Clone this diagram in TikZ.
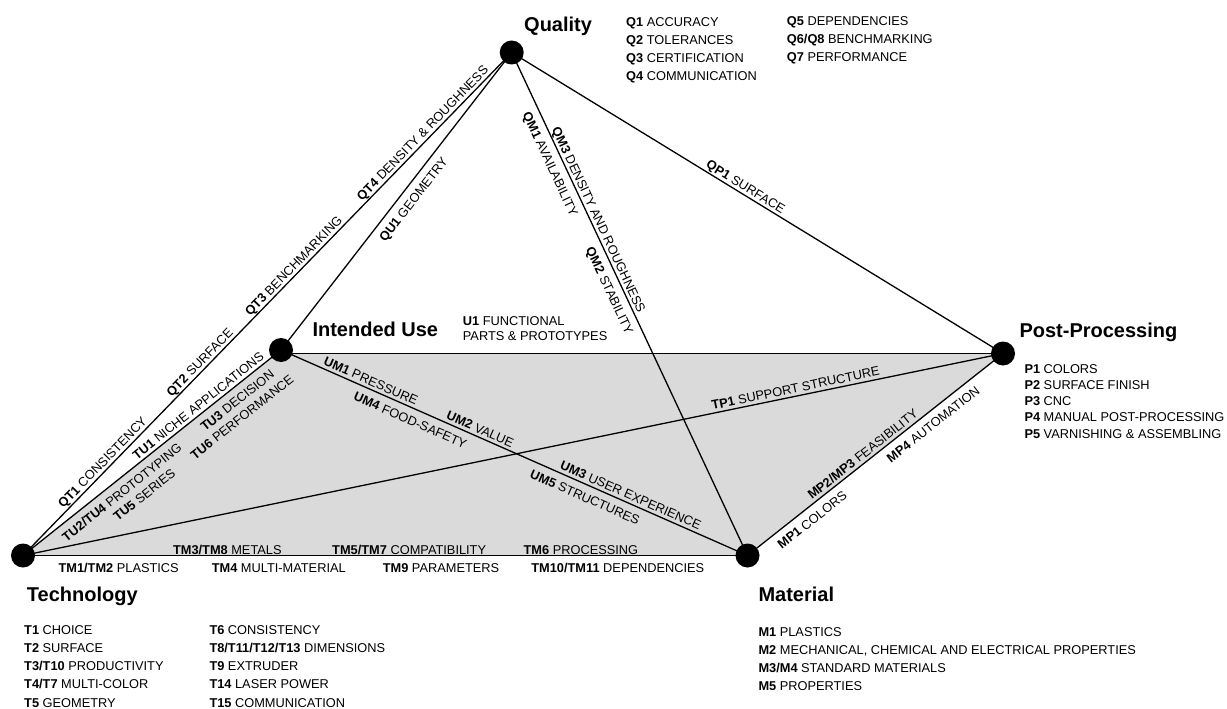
\documentclass[tikz,border=0pt]{standalone}
\usepackage{fontspec}
\setmainfont{Liberation Sans}
\pgfdeclarelayer{filllayer}
\pgfdeclarelayer{edgelayer}
\pgfsetlayers{filllayer,edgelayer,main}
\begin{document}
\begin{tikzpicture}[x=1pt,y=-1pt,
  vertex/.style={circle,fill=black,minimum size=24pt,inner sep=0pt,outer sep=0pt},
  heading/.style={anchor=base west,inner sep=0pt,font=\fontsize{20}{24}\selectfont\bfseries},
  item/.style={anchor=base west,inner sep=0pt,font=\fontsize{12.8}{15}\selectfont},
  edge/.style={line width=1.3pt,black},
  lbl/.style={sloped,font=\fontsize{12.8}{15}\selectfont,text height=9.2pt,text depth=0pt,outer sep=0pt},
  la/.style={lbl,anchor=south,inner sep=3.5pt},
  lah/.style={lbl,anchor=south,inner sep=1.5pt},
  lb/.style={lbl,anchor=north,inner sep=7.5pt},
  lbb/.style={lbl,anchor=north,inner sep=23.5pt},
]
\useasboundingbox (0,0) rectangle (1227,709);

% the five aspects
\node[vertex] (T)  at (23,555.5) {};
\node[vertex] (IU) at (281,350) {};
\node[vertex] (Q)  at (511.7,52.5) {};
\node[vertex] (PP) at (1003,353.5) {};
\node[vertex] (M)  at (747.5,555.5) {};

% shaded area between technology, intended use, post-processing and material
\begin{pgfonlayer}{filllayer}
  \fill[fill={rgb,255:red,218;green,218;blue,218}]
    (T.center) -- (IU.center) -- (IU.center |- PP.center) -- (PP.center) -- (M.center) -- cycle;
\end{pgfonlayer}

% connections with their labels
\begin{pgfonlayer}{edgelayer}
  \draw[edge] (T.center) -- (Q.center)
    node[la,pos=0.174] (qt1) {\textbf{QT1} CONSISTENCY}
    node[la,pos=0.373] (qt2) {\textbf{QT2} SURFACE}
    node[la,pos=0.565] (qt3) {\textbf{QT3} BENCHMARKING}
    node[la,pos=0.829] (qt4) {\textbf{QT4} DENSITY \& ROUGHNESS};
  \draw[edge] (T.center) -- (IU.center)
    node[la,pos=0.698] (tu1) {\textbf{TU1} NICHE APPLICATIONS}
    node[lb,pos=0.354] (tu2) {\textbf{TU2/TU4} PROTOTYPING}
    node[lbb,pos=0.402] (tu5) {\textbf{TU5} SERIES}
    node[lb,pos=0.801] (tu3) {\textbf{TU3} DECISION}
    node[lbb,pos=0.781] (tu6) {\textbf{TU6} PERFORMANCE};
  \draw[edge] (IU.center) -- (Q.center)
    node[lb,pos=0.532] (qu1) {\textbf{QU1} GEOMETRY};
  \draw[edge] (Q.center) -- (M.center)
    node[lb,pos=0.211] (qm1) {\textbf{QM1} AVAILABILITY}
    node[la,pos=0.339] (qm3) {\textbf{QM3} DENSITY AND ROUGHNESS}
    node[lb,pos=0.463] (qm2) {\textbf{QM2} STABILITY};
  \draw[edge] (Q.center) -- (PP.center)
    node[la,pos=0.468] (qp1) {\textbf{QP1} SURFACE};
  \draw[edge] (IU.center) -- (M.center)
    node[la,pos=0.186] (um1) {\textbf{UM1} PRESSURE}
    node[lb,pos=0.288] (um4) {\textbf{UM4} FOOD-SAFETY}
    node[la,pos=0.420] (um2) {\textbf{UM2} VALUE}
    node[la,pos=0.743] (um3) {\textbf{UM3} USER EXPERIENCE}
    node[lb,pos=0.662] (um5) {\textbf{UM5} STRUCTURES};
  \draw[edge] (T.center) -- (PP.center)
    node[la,pos=0.790] (tp1) {\textbf{TP1} SUPPORT STRUCTURE};
  \draw[edge] (M.center) -- (PP.center)
    node[lb,pos=0.223] (mp1) {\textbf{MP1} COLORS}
    node[la,pos=0.470] (mp2) {\textbf{MP2/MP3} FEASIBILITY}
    node[lb,pos=0.697] (mp4) {\textbf{MP4} AUTOMATION};
  \draw[edge] (IU.center |- PP.center) -- (PP.center);
  \draw[edge] (T.center) -- (M.center)
    node[lah,pos=0.282] (tm3) {\textbf{TM3/TM8} METALS}
    node[lah,pos=0.533] (tm5) {\textbf{TM5/TM7} COMPATIBILITY}
    node[lah,pos=0.770] (tm6) {\textbf{TM6} PROCESSING}
    node[lb,pos=0.132] (tm1) {\textbf{TM1/TM2} PLASTICS}
    node[lb,pos=0.353] (tm4) {\textbf{TM4} MULTI-MATERIAL}
    node[lb,pos=0.577] (tm9) {\textbf{TM9} PARAMETERS}
    node[lb,pos=0.821] (tm10) {\textbf{TM10/TM11} DEPENDENCIES};
\end{pgfonlayer}

% headings
\node[heading] (hQ)  at (524,31.7) {Quality};
\node[heading] (hIU) at (312.3,336) {Intended Use};
\node[heading] (hPP) at (1019.3,337) {Post-Processing};
\node[heading] (hT)  at (26.7,601.7) {Technology};
\node[heading] (hM)  at (758.3,601.7) {Material};

% quality criteria
\node[item] (q1) at (626,26.5) {\textbf{Q1} ACCURACY};
\node[item] (q2) at (626,44.4) {\textbf{Q2} TOLERANCES};
\node[item] (q3) at (626,62.3) {\textbf{Q3} CERTIFICATION};
\node[item] (q4) at (626,80.2) {\textbf{Q4} COMMUNICATION};
\node[item] (q5) at (786.7,26) {\textbf{Q5} DEPENDENCIES};
\node[item] (q6) at (786.7,43.9) {\textbf{Q6/Q8} BENCHMARKING};
\node[item] (q7) at (786.7,61.8) {\textbf{Q7} PERFORMANCE};

% intended use
\node[item] (u1a) at (462.7,325) {\textbf{U1} FUNCTIONAL};
\node[item] (u1b) at (462.7,340) {PARTS \& PROTOTYPES};

% post-processing criteria
\node[item] (p1) at (1024.3,373.3) {\textbf{P1} COLORS};
\node[item] (p2) at (1024.3,389.5) {\textbf{P2} SURFACE FINISH};
\node[item] (p3) at (1024.3,405.7) {\textbf{P3} CNC};
\node[item] (p4) at (1024.3,421.9) {\textbf{P4} MANUAL POST-PROCESSING};
\node[item] (p5) at (1024.3,438.1) {\textbf{P5} VARNISHING \& ASSEMBLING};

% technology criteria
\node[item] (t1)  at (24,634) {\textbf{T1} CHOICE};
\node[item] (t2)  at (24,652.3) {\textbf{T2} SURFACE};
\node[item] (t3)  at (24,670.6) {\textbf{T3/T10} PRODUCTIVITY};
\node[item] (t4)  at (24,688.9) {\textbf{T4/T7} MULTI-COLOR};
\node[item] (t5)  at (24,707.2) {\textbf{T5} GEOMETRY};
\node[item] (t6)  at (209.3,634) {\textbf{T6} CONSISTENCY};
\node[item] (t8)  at (209.3,652.3) {\textbf{T8/T11/T12/T13} DIMENSIONS};
\node[item] (t9)  at (209.3,670.6) {\textbf{T9} EXTRUDER};
\node[item] (t14) at (209.3,688.9) {\textbf{T14} LASER POWER};
\node[item] (t15) at (209.3,707.2) {\textbf{T15} COMMUNICATION};

% material criteria
\node[item] (m1) at (758.3,636) {\textbf{M1} PLASTICS};
\node[item] (m2) at (758.3,654.3) {\textbf{M2} MECHANICAL, CHEMICAL AND ELECTRICAL PROPERTIES};
\node[item] (m3) at (758.3,672.6) {\textbf{M3/M4} STANDARD MATERIALS};
\node[item] (m5) at (758.3,690.9) {\textbf{M5} PROPERTIES};
\end{tikzpicture}
\end{document}
